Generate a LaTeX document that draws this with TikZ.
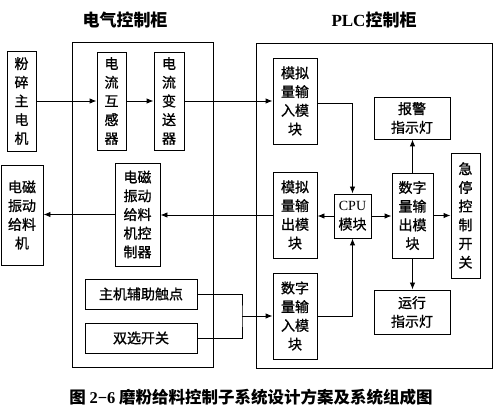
\documentclass[tikz,border=0pt]{standalone}
\usepackage{fontspec}
\setmainfont{Liberation Serif}
\newfontfamily\cjk{Noto Sans CJK SC}
\newfontfamily\cjkb[FakeBold=1]{Noto Sans CJK SC}
\usetikzlibrary{arrows.meta}
\tikzset{
  box/.style={draw, line width=0.9pt, inner sep=0pt, align=center,
    font=\cjkb\fontsize{14}{18.7}\selectfont},
  bx/.style n args={2}{box, minimum width=#1pt, minimum height=#2pt},
  cabinet/.style n args={2}{draw, line width=0.9pt, inner sep=0pt, minimum width=#1pt, minimum height=#2pt},
  conn/.style={line width=0.9pt},
  arr/.style={conn, -{Latex[length=7pt,width=5.5pt]}},
  title/.style={font=\cjk\bfseries\fontsize{17}{20}\selectfont, inner sep=0pt},
  caption/.style={font=\cjk\bfseries\fontsize{16.5}{18}\selectfont, inner sep=0pt}
}
\begin{document}
\begin{tikzpicture}[x=1pt,y=-1pt]
\useasboundingbox (0,0) rectangle (499,414);
% cabinets
\node[cabinet={141}{325}] (elec) at (142.5,204.5) {};
\node[cabinet={236}{325}] (plc) at (374,205.5) {};
\node[title] (t1) at (125,20) {电气控制柜};
\node[title] (t2) at (374,20) {{\rmfamily PLC}控制柜};
% boxes
\node[bx={29}{100}] (motor) at (21.5,101) {粉\\碎\\主\\电\\机};
\node[bx={29}{98}] (ct) at (111.5,101) {电\\流\\互\\感\\器};
\node[bx={30}{98}] (tx) at (169,101) {电\\流\\变\\送\\器};
\node[bx={42}{100}] (feeder) at (22,215) {电磁\\振动\\给料\\机};
\node[bx={45}{103}] (fctrl) at (137.5,214.5) {电磁\\振动\\给料\\机控\\制器};
\node[bx={112}{30}] (aux) at (141,294) {主机辅助触点};
\node[bx={112}{30}] (sw) at (141,338) {双选开关};
\node[bx={44}{86}] (ai) at (295,101) {模拟\\量输\\入模\\块};
\node[bx={44}{86}] (ao) at (295,215) {模拟\\量输\\出模\\块};
\node[bx={44}{86}] (di) at (295,316) {数字\\量输\\入模\\块};
\node[bx={37}{44}] (cpu) at (352.5,216) {{\rmfamily CPU}\\模块};
\node[bx={41}{85}] (do) at (412.5,215.5) {数字\\量输\\出模\\块};
\node[bx={76}{42}] (alarm) at (412,118) {报警\\指示灯};
\node[bx={76}{44}] (run) at (412,312) {运行\\指示灯};
\node[bx={29}{125}] (estop) at (465.5,215.5) {急\\停\\控\\制\\开\\关};
% connectors
\draw[arr] (motor.east) -- (motor.east -| ct.west);
\draw[arr] (ct.east) -- (ct.east -| tx.west);
\draw[arr] (tx.east) -- (tx.east -| ai.west);
\draw[arr] ([yshift=-2pt]ai.east) -| (cpu.north);
\draw[arr] (cpu.west) -- (cpu.west -| ao.east);
\draw[arr] (ao.west) -- (ao.west -| fctrl.east);
\draw[arr] (fctrl.west) -- (fctrl.west -| feeder.east);
\draw[arr] (cpu.east) -- (cpu.east -| do.west);
\draw[arr] (do.east) -- (do.east -| estop.west);
\draw[arr] (do.north) -- (do.north |- alarm.south);
\draw[arr] (do.south) -- (do.south |- run.north);
\draw[arr] (di.east) -| (cpu.south);
\coordinate (j) at (242,316);
\draw[conn] (aux.east) -| (j) |- (sw.east);
\draw[arr] (j) -- (j -| di.west);
% caption
\node[caption] (cap) at (251,397) {图 {\rmfamily 2−6} 磨粉给料控制子系统设计方案及系统组成图};
\end{tikzpicture}
\end{document}
